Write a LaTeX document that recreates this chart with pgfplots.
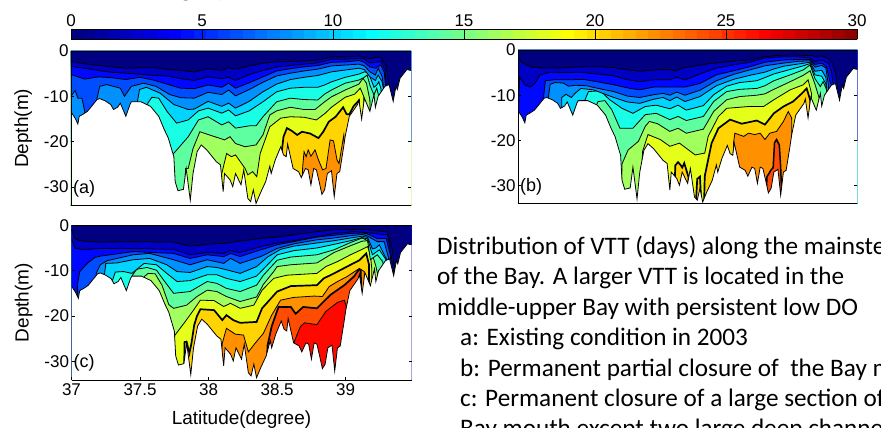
\documentclass[border=0pt]{standalone}
\usepackage{pgfplots}
\usepackage{pgfplotstable}
\usepackage{fontspec}
\pgfplotsset{compat=1.18}
\setmainfont{Liberation Sans}
\newfontfamily\calib{Carlito}
\definecolor{c0}{rgb}{0,0,.5}
\definecolor{c2}{rgb}{0,0,.767}
\definecolor{c4}{rgb}{0,.033,1}
\definecolor{c6}{rgb}{0,.3,1}
\definecolor{c8}{rgb}{0,.567,1}
\definecolor{c10}{rgb}{0,.833,1}
\definecolor{c12}{rgb}{.1,1,.9}
\definecolor{c14}{rgb}{.367,1,.633}
\definecolor{c16}{rgb}{.633,1,.367}
\definecolor{c18}{rgb}{.9,1,.1}
\definecolor{c20}{rgb}{1,.833,0}
\definecolor{c22}{rgb}{1,.567,0}
\definecolor{c24}{rgb}{1,.3,0}
\definecolor{c26}{rgb}{1,.033,0}
\pgfplotstableread{
lat d
37.00 -40
37.00 -13.4
37.03 -14.8
37.05 -16.1
37.06 -14.4
37.09 -13.9
37.12 -13.3
37.15 -12.2
37.19 -10.7
37.21 -10.5
37.25 -11.0
37.29 -11.8
37.31 -12.9
37.34 -12.4
37.36 -11.5
37.40 -14.4
37.43 -11.8
37.44 -11.2
37.51 -11.2
37.58 -12.2
37.64 -14.4
37.68 -17.3
37.71 -19.2
37.75 -23.3
37.76 -28.8
37.78 -30.8
37.82 -30.5
37.84 -25.9
37.87 -32.9
37.89 -27.0
37.92 -22.2
37.95 -20.7
37.99 -21.8
38.06 -24.4
38.09 -25.1
38.11 -31.0
38.12 -27.0
38.16 -28.4
38.18 -29.9
38.20 -27.0
38.24 -29.5
38.26 -26.2
38.29 -32.5
38.31 -33.2
38.33 -30.6
38.35 -33.6
38.38 -31.4
38.42 -28.8
38.45 -25.4
38.46 -27.0
38.49 -24.0
38.53 -21.1
38.55 -22.9
38.57 -23.3
38.58 -20.5
38.62 -25.9
38.66 -26.6
38.68 -27.9
38.71 -25.9
38.73 -26.2
38.75 -29.5
38.77 -25.9
38.79 -26.2
38.81 -28.8
38.83 -31.6
38.85 -30.6
38.87 -27.0
38.90 -26.4
38.92 -32.1
38.94 -27.0
38.96 -26.6
38.99 -20.9
39.00 -18.8
39.03 -14.4
39.09 -11.8
39.10 -10.8
39.12 -15.0
39.14 -10.4
39.18 -13.3
39.21 -9.6
39.22 -12.4
39.24 -10.0
39.29 -7.8
39.32 -7.4
39.35 -11.1
39.37 -7.8
39.38 -8.5
39.40 -6.0
39.45 -4.1
39.48 -4.3
39.48 -40
}\bathy
\newcommand{\band}[3][0.8pt]{%
 \addplot[fill=#2,draw=none] coordinates {#3} \closedcycle;
 \addplot[black,line width=#1] coordinates {#3};}
\newcommand{\seabed}{%
 \addplot[fill=white,draw=none] table[x=lat,y=d]{\bathy};
 \addplot[black,line width=0.8pt,restrict y to domain=-39:0] table[x=lat,y=d]{\bathy};
 \draw[black,line width=0.9pt] (rel axis cs:0,0)--(rel axis cs:0,1);}
\pgfplotsset{panel/.style={
  scale only axis,anchor=south west,xmin=37,xmax=39.48,ymax=0,
  separate axis lines,axis on top,
  x axis line style={black,line width=0.9pt},
  y axis line style={draw=none},
  tick align=inside,major tick length=3pt,
  tick style={black,line width=0.6pt},
  ytick={-30,-20,-10,0},yticklabels={-30,-20,-10,0},
  tick label style={font=\fontsize{17}{17}\selectfont},
  yticklabel style={xshift=1pt},
  xtick=\empty,
  ylabel style={font=\fontsize{19}{20}\selectfont},
}}
\begin{document}
\begin{tikzpicture}[x=1pt,y=1pt]
\path[use as bounding box] (0,0) rectangle (881,428);
\clip (0,0) rectangle (881,428);
% colour bar
\begin{axis}[at={(71pt,388.7pt)},anchor=south west,scale only axis,width=786pt,height=10.3pt,
  xmin=0,xmax=30,ymin=0,ymax=1,view={0}{90},colormap/jet,point meta min=0,point meta max=30,
  axis on top,xtick={0,5,...,30},xticklabels={0,5,10,15,20,25,30},xticklabel pos=top,ytick=\empty,
  tick align=inside,major tick length=10.3pt,tick style={black,line width=0.7pt},
  axis line style={black,line width=0.8pt},
  tick label style={font=\fontsize{17}{17}\selectfont},xticklabel style={yshift=-1pt}]
\addplot3[surf,shader=flat corner,samples=65,samples y=2,domain=0:30,y domain=0:1,point meta=x] {0};
\end{axis}
% panel a
\begin{axis}[panel,at={(71pt,222.3pt)},width=340pt,height=154.7pt,ymin=-34.1,
  axis background/.style={fill=c22},ylabel={Depth(m)},ylabel shift=5pt]
\band{c20}{(37,-34)(38.68,-34)(38.69,-25.5)(38.70,-22.2)(38.715,-23.3)(38.73,-21.8)(38.75,-23.2)(38.78,-21.8)(38.805,-24)(38.835,-26.2)(38.86,-25.9)(38.89,-19.6)(38.915,-19.8)(38.94,-24)(38.955,-24.8)(38.99,-18.5)(38.995,-20.7)(39.0,-34)(39.48,-34)}
\band[1.7pt]{c18}{(37,-34)(38.535,-34)(38.54,-21.5)(38.55,-18.9)(38.575,-17)(38.61,-17.6)(38.65,-18.5)(38.685,-17.8)(38.745,-18.2)(38.805,-19.2)(38.84,-17.8)(38.88,-15.6)(38.93,-14.5)(38.985,-12.4)(39.01,-13.9)(39.03,-14)(39.06,-12.2)(39.1,-10.9)(39.105,-34)(39.48,-34)}
\band{c16}{(37,-34)(38.095,-34)(38.10,-27)(38.135,-22.6)(38.17,-23.3)(38.2,-22.9)(38.27,-25.9)(38.29,-27.3)(38.325,-26.6)(38.355,-27.7)(38.38,-22.6)(38.45,-16.7)(38.53,-14.8)(38.6,-14.5)(38.7,-14.6)(38.79,-15.2)(38.855,-13.7)(38.9,-12.4)(39,-10.2)(39.07,-9.5)(39.11,-8.2)(39.135,-10)(39.14,-34)(39.48,-34)}
\band{c14}{(37,-34)(37.83,-34)(37.835,-25.9)(37.855,-25.9)(37.89,-21.5)(37.94,-17.8)(38.01,-18.5)(38.12,-19.6)(38.16,-18.9)(38.2,-20.4)(38.27,-21.1)(38.35,-20.7)(38.4,-18.5)(38.45,-14.1)(38.5,-13.2)(38.6,-12.4)(38.7,-12.9)(38.78,-12.9)(38.85,-11.2)(38.9,-10.1)(39,-8.6)(39.1,-7.3)(39.13,-6)(39.155,-7.1)(39.18,-10.8)(39.19,-34)(39.48,-34)}
\band{c12}{(37,-34)(37.73,-34)(37.74,-22.9)(37.855,-18.9)(37.93,-15.2)(38,-14.5)(38.1,-16.3)(38.15,-15.6)(38.2,-17)(38.3,-16.5)(38.35,-16.5)(38.4,-14.5)(38.5,-11.2)(38.6,-10.4)(38.7,-10.7)(38.8,-10.8)(38.85,-9.5)(38.9,-8.6)(39,-7.1)(39.1,-6.4)(39.14,-5.8)(39.16,-5.3)(39.18,-7.5)(39.21,-9.7)(39.23,-8.2)(39.245,-10)(39.25,-20)(39.48,-20)}
\band{c10}{(37,-20)(37.55,-20)(37.56,-11.5)(37.59,-10.2)(37.64,-10.4)(37.70,-13.3)(37.77,-15.9)(37.855,-15.2)(37.93,-13.2)(38,-12.6)(38.1,-13.7)(38.15,-13)(38.2,-14.3)(38.3,-13.2)(38.4,-11.2)(38.5,-9)(38.6,-8.2)(38.7,-8)(38.8,-8)(38.85,-7.5)(38.9,-6.8)(39,-5.8)(39.1,-5.1)(39.14,-4.6)(39.17,-4.8)(39.21,-8)(39.23,-7.5)(39.245,-6.8)(39.26,-8.2)(39.265,-9.7)(39.27,-20)(39.48,-20)}
\band{c8}{(37,-20)(37.48,-20)(37.485,-11.1)(37.50,-8.5)(37.55,-8)(37.65,-9.3)(37.75,-11.8)(37.855,-12.9)(37.9,-12.8)(38,-11.1)(38.1,-12.2)(38.15,-11.5)(38.2,-12.6)(38.3,-11.1)(38.4,-9)(38.5,-7.3)(38.6,-6.3)(38.7,-5.8)(38.8,-5.4)(38.9,-4.6)(39,-4.2)(39.1,-3.8)(39.14,-4.1)(39.18,-5.7)(39.22,-6.5)(39.24,-5.3)(39.27,-6.8)(39.28,-8.5)(39.285,-20)(39.48,-20)}
\band{c6}{(37,-10)(37.03,-8.7)(37.05,-10.4)(37.08,-10.4)(37.1,-13.3)(37.11,-20)(37.18,-20)(37.19,-10.4)(37.21,-7.8)(37.26,-7.4)(37.36,-8.2)(37.39,-10)(37.44,-7.8)(37.53,-7.1)(37.62,-7.8)(37.72,-9.6)(37.8,-10.3)(37.9,-10.4)(38,-9.1)(38.1,-9.6)(38.15,-8.6)(38.2,-9.9)(38.3,-8.5)(38.4,-6.9)(38.5,-5.5)(38.6,-4.9)(38.7,-4.4)(38.8,-4)(38.9,-3.3)(39,-3.1)(39.1,-2.9)(39.14,-3.3)(39.18,-4.6)(39.22,-5.3)(39.24,-3.8)(39.27,-5.7)(39.28,-8.2)(39.29,-20)(39.48,-20)}
\band{c4}{(37,-5.2)(37.1,-6.2)(37.2,-5.7)(37.3,-5.9)(37.4,-6.3)(37.5,-5.8)(37.6,-6.4)(37.7,-7.3)(37.8,-8.2)(37.9,-8.3)(38,-7.5)(38.1,-8)(38.15,-7.1)(38.2,-8.2)(38.3,-7)(38.4,-5.7)(38.5,-4.4)(38.6,-3.9)(38.7,-3.5)(38.8,-3.2)(38.9,-2.5)(39,-2.4)(39.1,-2.1)(39.14,-2.5)(39.18,-3.5)(39.22,-3.8)(39.26,-3.1)(39.285,-4.7)(39.295,-8)(39.3,-20)(39.48,-20)}
\band{c2}{(37,-3.4)(37.1,-3.8)(37.2,-4.3)(37.3,-4.7)(37.4,-4.9)(37.5,-5.1)(37.6,-5.4)(37.7,-5.5)(37.8,-6.1)(37.9,-6.5)(38,-5.7)(38.1,-6.1)(38.15,-5.8)(38.2,-6.5)(38.3,-5.2)(38.4,-4.3)(38.5,-3.5)(38.6,-3.2)(38.7,-2.9)(38.8,-2.6)(38.9,-1.8)(39,-1.8)(39.1,-1.6)(39.14,-1.8)(39.18,-2.6)(39.22,-2.5)(39.26,-2.2)(39.29,-4.2)(39.3,-7.7)(39.31,-20)(39.48,-20)}
\band{c0}{(37,-2.3)(37.1,-2.8)(37.2,-3.2)(37.3,-3.5)(37.4,-3.8)(37.5,-3.7)(37.6,-3.7)(37.7,-4)(37.8,-4.3)(37.9,-4.6)(38,-3.9)(38.1,-4.3)(38.15,-3.7)(38.2,-4)(38.3,-3.3)(38.4,-2.7)(38.5,-2.4)(38.6,-2.3)(38.7,-2.2)(38.8,-2)(38.9,-1.3)(39,-1.3)(39.1,-1.1)(39.14,-1.4)(39.18,-1.7)(39.22,-1.4)(39.26,-1.4)(39.3,-3.5)(39.32,-7.9)(39.33,-20)(39.48,-20)}
\seabed
\node[anchor=west,font=\fontsize{18}{18}\selectfont] at (axis cs:36.99,-30.3) {(a)};
\end{axis}
% panel b
\begin{axis}[panel,at={(518pt,224.7pt)},width=339.3pt,height=153.3pt,ymin=-33.9,
  axis background/.style={fill=c24}]
\band[1.5pt]{c22}{(37,-34)(38.81,-34)(38.82,-28)(38.85,-26.5)(38.865,-26)(38.875,-20.5)(38.89,-19.8)(38.91,-21)(38.92,-26)(38.93,-34)(39.48,-34)}
\band{c20}{(37,-34)(38.57,-34)(38.575,-20.6)(38.585,-18.4)(38.65,-19.1)(38.685,-18.4)(38.73,-18.7)(38.77,-18.4)(38.805,-19.8)(38.84,-18.4)(38.89,-18)(38.94,-15.8)(38.975,-13.6)(39.0,-15)(39.005,-34)(39.48,-34)}
\band[1.7pt]{c18}{(37,-34)(38.14,-34)(38.15,-25.5)(38.17,-24.8)(38.19,-25.5)(38.2,-26)(38.215,-25)(38.245,-28)(38.25,-34)(38.3,-34)(38.31,-28.5)(38.33,-28)(38.34,-34)(38.36,-34)(38.365,-27.9)(38.38,-25.7)(38.415,-20.6)(38.465,-17.3)(38.55,-15.4)(38.635,-16.3)(38.745,-15.6)(38.805,-16.5)(38.87,-14)(38.94,-12.5)(39.01,-11.4)(39.075,-9.6)(39.11,-8.5)(39.135,-11)(39.14,-34)(39.48,-34)}
\band{c16}{(37,-34)(37.9,-34)(37.91,-22.5)(37.95,-18.7)(38.04,-19.8)(38.11,-21.3)(38.18,-20.6)(38.295,-23.2)(38.365,-22.8)(38.39,-19.1)(38.465,-14.7)(38.525,-12.9)(38.685,-12.5)(38.795,-12.5)(38.87,-11)(38.99,-8.8)(39.085,-7.7)(39.12,-6.6)(39.145,-9.6)(39.16,-34)(39.48,-34)}
\band{c14}{(37,-34)(37.755,-34)(37.76,-25.2)(37.805,-22.1)(37.88,-20.2)(37.93,-16.9)(37.96,-15.8)(38.02,-16.3)(38.11,-18)(38.17,-17.3)(38.23,-18.4)(38.355,-17.5)(38.43,-13.6)(38.525,-11)(38.62,-10.3)(38.745,-10)(38.805,-9.7)(38.87,-8.7)(38.99,-7)(39.085,-5.6)(39.135,-4.6)(39.17,-7.5)(39.2,-10.5)(39.21,-34)(39.48,-34)}
\band{c12}{(37,-34)(37.555,-34)(37.56,-13.2)(37.585,-11.4)(37.635,-11.2)(37.685,-13.2)(37.745,-17.3)(37.84,-17.3)(37.93,-14.3)(38.01,-14)(38.11,-15.4)(38.17,-14.7)(38.23,-15.6)(38.355,-14.7)(38.43,-11.4)(38.525,-9.2)(38.62,-8.7)(38.745,-8.5)(38.805,-7.9)(38.87,-6.8)(38.99,-5.5)(39.085,-4.4)(39.135,-3.3)(39.17,-6.3)(39.21,-8.1)(39.23,-7)(39.255,-8.7)(39.26,-34)(39.48,-34)}
\band{c10}{(37,-34)(37.485,-34)(37.49,-11)(37.515,-9.2)(37.6,-9)(37.67,-11)(37.76,-12.9)(37.84,-14)(37.93,-12.5)(38.01,-12.2)(38.11,-13)(38.17,-12.2)(38.23,-13.3)(38.355,-12.3)(38.43,-9.9)(38.525,-8)(38.62,-7.2)(38.745,-6.8)(38.805,-6.1)(38.87,-5.3)(38.99,-4.3)(39.085,-3.5)(39.135,-3)(39.17,-5.5)(39.22,-5.8)(39.25,-7.5)(39.26,-10)(39.265,-34)(39.48,-34)}
\band{c8}{(37,-34)(37.31,-34)(37.32,-10.5)(37.35,-9.8)(37.39,-10.5)(37.42,-9.5)(37.46,-8.5)(37.55,-8.8)(37.62,-9.6)(37.7,-10.5)(37.8,-11.5)(37.89,-11.8)(37.99,-10.9)(38.06,-10.5)(38.11,-11.2)(38.16,-10.4)(38.22,-11.4)(38.33,-10.3)(38.45,-7.9)(38.575,-6.5)(38.695,-5.6)(38.805,-4.9)(38.87,-4.2)(38.94,-3.6)(39.05,-3.1)(39.135,-2.7)(39.17,-4.7)(39.22,-4.5)(39.25,-6)(39.26,-10)(39.265,-34)(39.48,-34)}
\band{c6}{(37,-34)(37.215,-34)(37.22,-11)(37.235,-7.6)(37.27,-7.2)(37.33,-7.3)(37.37,-8)(37.42,-7.8)(37.5,-7.9)(37.57,-8.4)(37.7,-9.2)(37.8,-10.2)(37.89,-10.5)(37.99,-9.9)(38.06,-9.6)(38.11,-10)(38.16,-9.3)(38.22,-10)(38.33,-8.9)(38.45,-6.8)(38.575,-5.4)(38.695,-4.4)(38.805,-3.5)(38.94,-2.9)(39.05,-2.5)(39.135,-2.4)(39.17,-3.8)(39.22,-3.4)(39.25,-4)(39.27,-8)(39.275,-20)(39.48,-20)}
\band{c4}{(37,-34)(37.18,-34)(37.185,-11)(37.2,-6.8)(37.26,-6.6)(37.355,-6.6)(37.48,-6.5)(37.575,-7)(37.7,-7.7)(37.82,-8.5)(37.89,-8.8)(37.99,-8.2)(38.11,-8.2)(38.22,-8.2)(38.33,-7.4)(38.45,-5.5)(38.575,-4.6)(38.695,-3.7)(38.805,-2.7)(38.94,-2.2)(39.05,-2.1)(39.135,-2.1)(39.17,-3.2)(39.22,-2.9)(39.255,-3.7)(39.28,-7)(39.3,-8.5)(39.305,-20)(39.48,-20)}
\band{c2}{(37,-20)(37.01,-5.9)(37.05,-7.7)(37.09,-8.2)(37.125,-7.3)(37.16,-5.5)(37.235,-4.9)(37.355,-5)(37.45,-4.9)(37.575,-5.3)(37.7,-5.7)(37.79,-6.5)(37.89,-7)(37.99,-6.6)(38.11,-6.6)(38.16,-6)(38.22,-6.6)(38.33,-5.3)(38.45,-4)(38.575,-3.3)(38.695,-2.7)(38.805,-1.8)(38.94,-1.5)(39.05,-1.5)(39.135,-1.8)(39.17,-2.6)(39.22,-2.2)(39.27,-2.9)(39.29,-4.8)(39.305,-7.7)(39.31,-20)(39.48,-20)}
\band{c0}{(37,-1.5)(37.03,-2.8)(37.1,-3.8)(37.2,-4)(37.3,-4)(37.4,-3.8)(37.5,-3.7)(37.6,-3.7)(37.7,-3.9)(37.8,-4.4)(37.9,-4.7)(38,-4.4)(38.1,-4.3)(38.15,-4.6)(38.2,-4)(38.3,-3.5)(38.4,-3)(38.5,-2.7)(38.6,-2.4)(38.7,-2.2)(38.8,-1.5)(38.9,-1.2)(39,-1.1)(39.1,-1.2)(39.15,-1.2)(39.18,-1.6)(39.22,-1.3)(39.26,-1.8)(39.3,-3)(39.32,-5)(39.34,-9)(39.345,-20)(39.48,-20)}
\seabed
\node[anchor=west,font=\fontsize{18}{18}\selectfont] at (axis cs:36.99,-30.3) {(b)};
\end{axis}
% panel c
\begin{axis}[panel,at={(71.5pt,48pt)},width=340pt,height=154.7pt,ymin=-34.1,
  axis background/.style={fill=c26},ylabel={Depth(m)},ylabel shift=5pt,
  xtick={37,37.5,38,38.5,39},xticklabels={37,37.5,38,38.5,39},xtick pos=bottom,
  xlabel={Latitude(degree)},xlabel style={font=\fontsize{19}{20}\selectfont,yshift=-8pt}]
\band{c24}{(37,-34)(38.615,-34)(38.62,-26)(38.67,-22.3)(38.7,-21.5)(38.79,-21.9)(38.855,-19)(38.94,-17)(38.99,-16.5)(39.005,-18)(39.01,-34)(39.48,-34)}
\band[1.7pt]{c22}{(37,-34)(38.42,-34)(38.43,-26.5)(38.46,-22.3)(38.51,-18)(38.6,-18)(38.635,-19.5)(38.69,-18)(38.79,-18.3)(38.89,-15.3)(38.99,-13.2)(39.06,-11.3)(39.11,-9.2)(39.12,-34)(39.48,-34)}
\band{c20}{(37,-34)(38.08,-34)(38.10,-26)(38.13,-22.7)(38.195,-24)(38.255,-24.2)(38.29,-27.9)(38.35,-25.6)(38.40,-23.8)(38.46,-19.8)(38.525,-16.5)(38.62,-15.9)(38.77,-15.6)(38.83,-15.7)(38.88,-13.5)(38.94,-12.4)(39.01,-11.3)(39.1,-9.5)(39.135,-10.2)(39.14,-34)(39.48,-34)}
\band[1.7pt]{c18}{(37,-34)(37.82,-34)(37.825,-25.7)(37.84,-25.7)(37.86,-28.2)(37.875,-26)(37.895,-22)(37.915,-20)(37.94,-18.5)(38.04,-18.7)(38.10,-20.9)(38.13,-19.8)(38.18,-20.9)(38.23,-21.5)(38.35,-21.3)(38.39,-18.3)(38.5,-14.6)(38.6,-13.4)(38.79,-13.2)(38.84,-11.7)(38.915,-10.6)(39.01,-9.1)(39.1,-7.7)(39.15,-6.2)(39.17,-8.7)(39.175,-34)(39.48,-34)}
\band{c16}{(37,-34)(37.74,-34)(37.745,-24.6)(37.83,-21.2)(37.89,-18.7)(37.94,-16.5)(38.04,-16.6)(38.11,-17.9)(38.16,-17.2)(38.23,-18.3)(38.33,-17.6)(38.39,-14.3)(38.475,-11.7)(38.57,-11)(38.79,-10.6)(38.855,-9.1)(38.94,-8)(39.035,-6.5)(39.12,-5.3)(39.16,-4.7)(39.18,-6.5)(39.19,-9.5)(39.2,-34)(39.48,-34)}
\band{c14}{(37,-34)(37.52,-34)(37.53,-11.3)(37.56,-10.6)(37.61,-10.7)(37.66,-13.2)(37.71,-17.5)(37.745,-18.3)(37.84,-17.6)(37.915,-15.7)(37.99,-14.3)(38.06,-14.6)(38.13,-15.7)(38.23,-16.8)(38.35,-15.8)(38.4,-13)(38.475,-10.2)(38.5,-9.1)(38.6,-8.7)(38.79,-8.3)(38.915,-6)(39.035,-4.5)(39.12,-3.5)(39.16,-3.4)(39.19,-6)(39.22,-9)(39.25,-13)(39.255,-34)(39.48,-34)}
\band{c12}{(37,-34)(37.44,-34)(37.445,-11)(37.475,-9.7)(37.55,-9.3)(37.62,-9.9)(37.68,-12.4)(37.745,-15)(37.865,-14.6)(37.99,-12.4)(38.06,-12.8)(38.13,-13.9)(38.23,-14.6)(38.35,-13.2)(38.4,-11)(38.5,-7.7)(38.6,-7)(38.79,-6.5)(38.915,-5.4)(39.035,-3.8)(39.12,-2.8)(39.16,-3.4)(39.18,-7.6)(39.23,-6.5)(39.27,-8)(39.28,-10.2)(39.285,-34)(39.48,-34)}
\band{c10}{(37,-34)(37.285,-34)(37.29,-12.9)(37.32,-10.3)(37.38,-10.2)(37.44,-10.6)(37.53,-8.4)(37.62,-8.7)(37.695,-10.6)(37.77,-12.4)(37.865,-12.2)(37.99,-10.9)(38.06,-10.9)(38.13,-11.7)(38.23,-12.4)(38.35,-11.2)(38.43,-8.7)(38.5,-6.5)(38.62,-5.6)(38.79,-5)(38.915,-4.2)(39.035,-3.4)(39.12,-2.7)(39.16,-3)(39.195,-6.5)(39.245,-5.4)(39.295,-7.6)(39.305,-9.5)(39.31,-34)(39.48,-34)}
\band{c8}{(37,-34)(37.235,-34)(37.24,-11)(37.25,-8.4)(37.33,-8.3)(37.45,-7.6)(37.57,-7.3)(37.695,-8.7)(37.77,-10.2)(37.865,-10.4)(37.99,-9.1)(38.06,-9.3)(38.13,-9.8)(38.23,-10.6)(38.35,-9.1)(38.43,-7)(38.525,-5.3)(38.62,-4.6)(38.79,-3.9)(38.915,-3.4)(39.035,-2.8)(39.12,-2.4)(39.16,-2.7)(39.195,-5.2)(39.22,-5)(39.245,-4.3)(39.3,-7.6)(39.31,-9.5)(39.315,-34)(39.48,-34)}
\band{c6}{(37,-34)(37.175,-34)(37.18,-10.6)(37.21,-8.7)(37.26,-7.8)(37.45,-6.5)(37.57,-6.2)(37.745,-7.6)(37.865,-8.7)(37.99,-7.6)(38.11,-8.4)(38.16,-7.3)(38.23,-8.4)(38.38,-6.9)(38.5,-5.1)(38.62,-4.1)(38.79,-3.2)(38.915,-2.8)(39.035,-2.3)(39.12,-2)(39.16,-2.4)(39.23,-3.6)(39.28,-3.6)(39.31,-6.9)(39.325,-9.8)(39.33,-34)(39.48,-34)}
\band{c4}{(37,-34)(37.04,-34)(37.045,-12.8)(37.06,-10.2)(37.115,-8.4)(37.17,-7.1)(37.21,-6.8)(37.45,-5.8)(37.745,-6.2)(37.865,-7.3)(37.99,-6.5)(38.11,-6.9)(38.16,-6.2)(38.23,-6.9)(38.38,-5.4)(38.5,-4.3)(38.62,-3.6)(38.79,-2.6)(38.915,-2.2)(39.035,-1.8)(39.12,-1.7)(39.16,-1.9)(39.23,-2.9)(39.295,-2.9)(39.325,-6.5)(39.335,-9.8)(39.34,-34)(39.48,-34)}
\band{c2}{(37,-3)(37.025,-5)(37.085,-5.4)(37.2,-5.1)(37.45,-5.1)(37.745,-5.3)(37.865,-6.5)(37.99,-6)(38.11,-6.2)(38.16,-5.6)(38.23,-6)(38.38,-4.7)(38.5,-3.9)(38.62,-3.4)(38.79,-2.5)(38.915,-1.8)(39.06,-1.4)(39.16,-1.6)(39.23,-1.9)(39.305,-2.1)(39.33,-6.2)(39.35,-10.6)(39.355,-34)(39.48,-34)}
\band{c0}{(37,-1)(37.025,-2.9)(37.06,-3.4)(37.2,-3.7)(37.45,-3.6)(37.745,-3.7)(37.865,-4.6)(37.99,-4.2)(38.11,-4)(38.23,-3.5)(38.38,-2.9)(38.5,-2.6)(38.62,-2.1)(38.79,-1.4)(38.915,-1)(39.06,-0.9)(39.16,-1)(39.23,-1.2)(39.305,-1.5)(39.34,-5.4)(39.36,-10.6)(39.365,-34)(39.48,-34)}
\seabed
\node[anchor=west,font=\fontsize{18}{18}\selectfont] at (axis cs:36.99,-30.3) {(c)};
\end{axis}
% caption
\begin{scope}[every node/.style={anchor=base west,inner sep=0pt,font=\calib\fontsize{25.2}{26}\selectfont}]
\node at (180,431) {g};
\node at (216,431) {y};
\node at (437,173.5) {Distribution of VTT (days) along the mainstem};
\node at (437,143.5) {of the Bay. A larger VTT is located in the};
\node at (437,112.5) {middle-upper Bay with persistent low DO};
\node at (460,82) {a: Existing condition in 2003};
\node at (460,51.5) {b: Permanent partial closure of\ \ the Bay mouth};
\node at (460,21.5) {c: Permanent closure of a large section of the};
\node at (460,-9) {Bay mouth except two large deep channels};
\end{scope}
\end{tikzpicture}
\end{document}
